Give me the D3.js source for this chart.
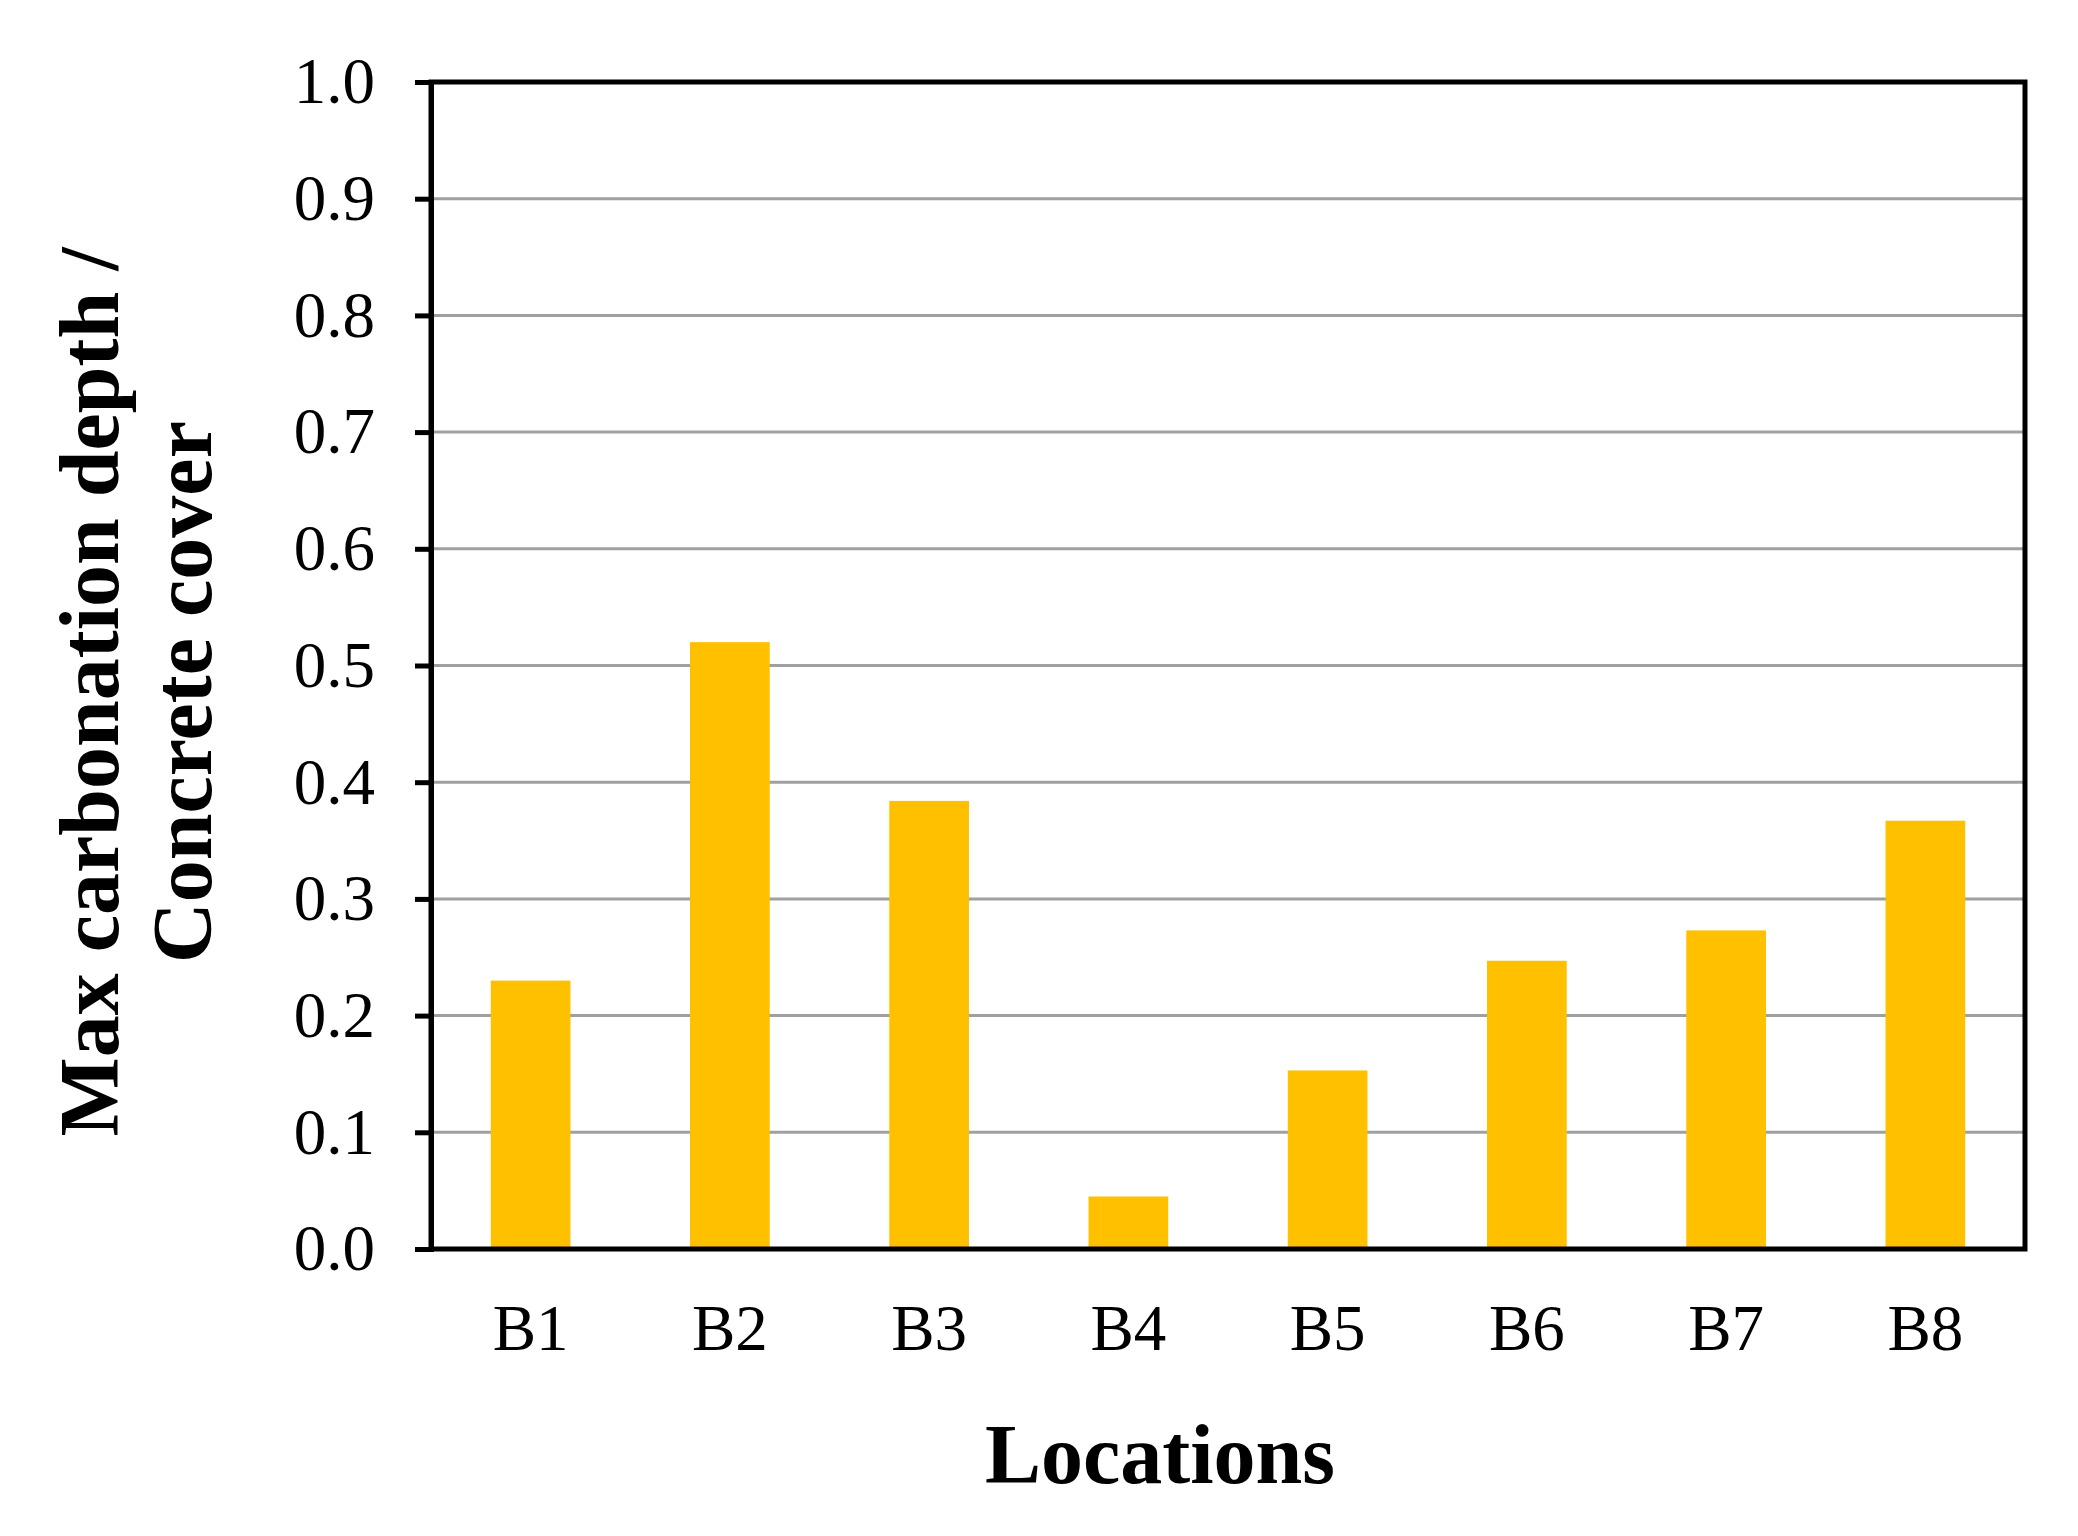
<!DOCTYPE html>
<html>
<head>
<meta charset="utf-8">
<script src="https://cdn.jsdelivr.net/npm/d3@7"></script>
<style>
  html, body { margin: 0; padding: 0; background: #fff; }
  svg text { font-family: "Liberation Serif", "Times New Roman", serif; fill: #000; }
</style>
</head>
<body>
<div id="chart"></div>
<script>
// data
const locations = ["B1", "B2", "B3", "B4", "B5", "B6", "B7", "B8"];
const ratios = [0.23, 0.52, 0.384, 0.045, 0.153, 0.247, 0.273, 0.367];
const yTicks = [0, 0.1, 0.2, 0.3, 0.4, 0.5, 0.6, 0.7, 0.8, 0.9, 1.0];

const width = 2078, height = 1536;
const margin = {top: 82, right: 53, bottom: 287, left: 431};

const svg = d3.select("#chart")
  .append("svg")
  .attr("width", width)
  .attr("height", height);

const x = d3.scaleBand()
  .domain(locations)
  .range([margin.left, width - margin.right])
  .paddingInner(0.6)
  .paddingOuter(0.3);

const y = d3.scaleLinear()
  .domain([0, 1])
  .range([height - margin.bottom, margin.top]);

// gridlines
svg.append("g")
  .selectAll("line")
  .data(yTicks.slice(1, -1))
  .join("line")
    .attr("x1", margin.left)
    .attr("x2", width - margin.right)
    .attr("y1", d => y(d))
    .attr("y2", d => y(d))
    .attr("stroke", "#a0a0a0")
    .attr("stroke-width", 3);

// bars
svg.append("g")
  .selectAll("rect")
  .data(ratios)
  .join("rect")
    .attr("x", (d, i) => x(locations[i]))
    .attr("y", d => y(d))
    .attr("width", x.bandwidth())
    .attr("height", d => y(0) - y(d))
    .attr("fill", "#ffc000");

// plot frame
svg.append("rect")
  .attr("x", margin.left)
  .attr("y", margin.top)
  .attr("width", width - margin.left - margin.right)
  .attr("height", height - margin.top - margin.bottom)
  .attr("fill", "none")
  .attr("stroke", "#000")
  .attr("stroke-width", 5);

// y axis
const yAxis = svg.append("g")
  .attr("transform", `translate(${margin.left},0)`)
  .call(d3.axisLeft(y).tickValues(yTicks).tickFormat(d3.format(".1f")).tickSize(16).tickPadding(40));
yAxis.select(".domain").attr("stroke-width", 5);
yAxis.selectAll(".tick line").attr("stroke-width", 5);
yAxis.selectAll("text")
  .style("font-size", "65px");

// x axis labels
const xAxis = svg.append("g")
  .attr("transform", `translate(0,${height - margin.bottom})`)
  .call(d3.axisBottom(x).tickSize(0).tickPadding(55));
xAxis.select(".domain").remove();
xAxis.selectAll("text")
  .style("font-size", "65px");

// axis titles
svg.append("text")
  .attr("x", 1160)
  .attr("y", 1483)
  .attr("text-anchor", "middle")
  .style("font-size", "84px")
  .style("font-weight", "bold")
  .text("Locations");

const yTitle = svg.append("text")
  .attr("transform", "translate(0,692) rotate(-90)")
  .attr("text-anchor", "middle")
  .style("font-size", "84px")
  .style("font-weight", "bold");
yTitle.append("tspan").attr("x", 0).attr("y", 118).text("Max carbonation depth /");
yTitle.append("tspan").attr("x", 0).attr("y", 211).text("Concrete cover");
</script>
</body>
</html>
